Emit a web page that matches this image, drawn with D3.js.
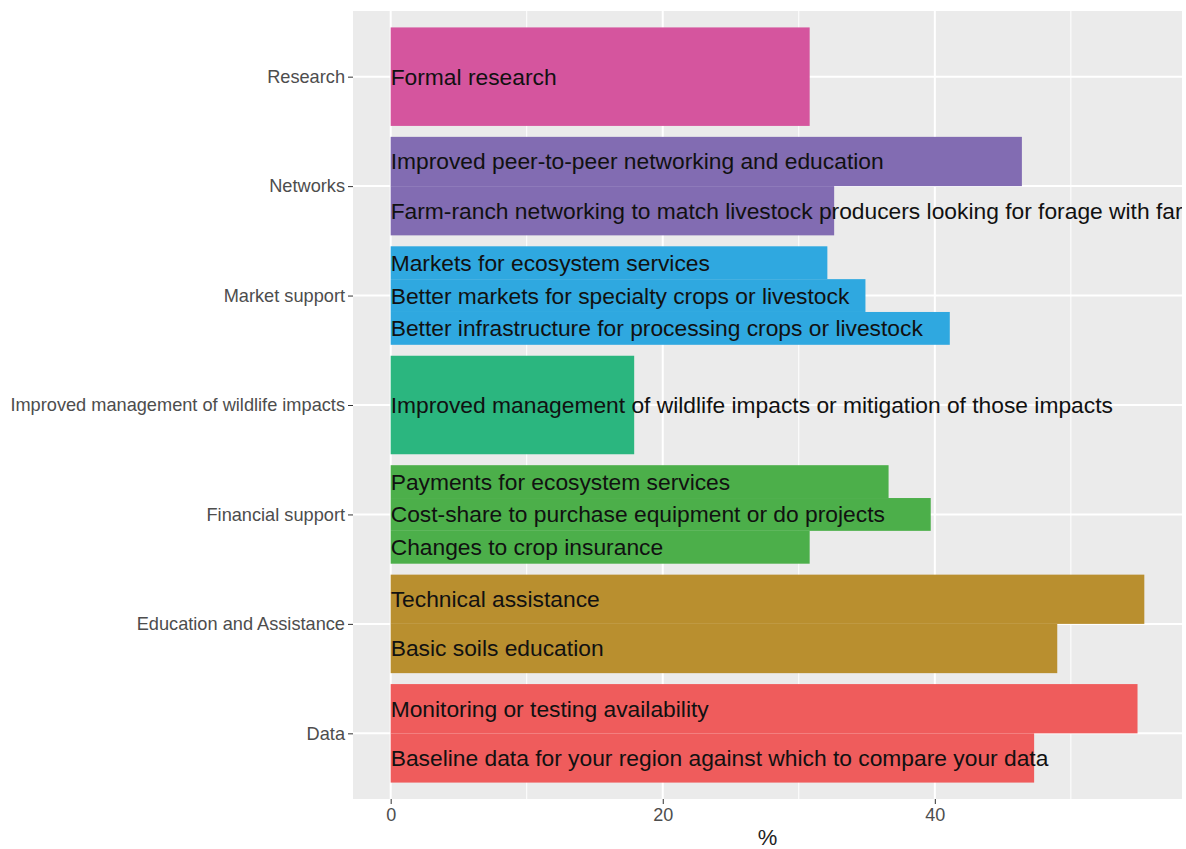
<!DOCTYPE html>
<html>
<head>
<meta charset="utf-8">
<script src="https://cdn.jsdelivr.net/npm/d3@7"></script>
<style>
  body { margin: 0; background: #fff; }
  svg { display: block; font-family: "Liberation Sans", Arial, sans-serif; }
</style>
</head>
<body>
<script>
const WIDTH = 1186;
const HEIGHT = 849;
const PANEL = {left: 353, right: 1182, top: 11, bottom: 799};

// categories from top to bottom
var categories = ['Research', 'Networks', 'Market support', 'Improved management of wildlife impacts',
    'Financial support', 'Education and Assistance', 'Data'];
var categoryColors = ['#d5559e', '#826cb2', '#2fa8e0', '#2bb67f', '#4caf4a', '#b98f2f', '#ef5c5c'];

// answers, listed top to bottom inside each category
var answerGroups = ['Research', 'Networks', 'Networks', 'Market support', 'Market support', 'Market support',
    'Improved management of wildlife impacts', 'Financial support', 'Financial support', 'Financial support',
    'Education and Assistance', 'Education and Assistance', 'Data', 'Data'];
var answerLabels = ['Formal research',
    'Improved peer-to-peer networking and education',
    'Farm-ranch networking to match livestock producers looking for forage with farmers',
    'Markets for ecosystem services',
    'Better markets for specialty crops or livestock',
    'Better infrastructure for processing crops or livestock',
    'Improved management of wildlife impacts or mitigation of those impacts',
    'Payments for ecosystem services',
    'Cost-share to purchase equipment or do projects',
    'Changes to crop insurance',
    'Technical assistance',
    'Basic soils education',
    'Monitoring or testing availability',
    'Baseline data for your region against which to compare your data'];
var answerValues = [30.8, 46.4, 32.6, 32.1, 34.9, 41.1, 17.9, 36.6, 39.7, 30.8, 55.4, 49.0, 54.9, 47.3];
var xTicks = [0, 20, 40];
var xMinor = [10, 30, 50];

var rows = answerLabels.map(function (label, i) {
    return {label: label, group: answerGroups[i], value: answerValues[i]};
});
categories.forEach(function (c) {
    var members = rows.filter(function (r) { return r.group === c; });
    members.forEach(function (r, j) { r.slot = j; r.count = members.length; });
});

var svg = d3.select('body').append('svg')
    .attr('width', WIDTH)
    .attr('height', HEIGHT);

var maxVal = d3.max(answerValues);
var xScale = d3.scaleLinear()
    .domain([-0.05 * maxVal, maxVal * 1.05])
    .range([PANEL.left, PANEL.right]);
var yScale = d3.scalePoint()
    .domain(categories)
    .range([PANEL.top, PANEL.bottom])
    .padding(0.6);
var colorScale = d3.scaleOrdinal().domain(categories).range(categoryColors);
var band = yScale.step() * 0.9;

svg.append('defs').append('clipPath').attr('id', 'panel-clip')
    .append('rect')
    .attr('x', PANEL.left).attr('y', PANEL.top)
    .attr('width', PANEL.right - PANEL.left).attr('height', PANEL.bottom - PANEL.top);

// panel background and grid
svg.append('rect')
    .attr('x', PANEL.left).attr('y', PANEL.top)
    .attr('width', PANEL.right - PANEL.left).attr('height', PANEL.bottom - PANEL.top)
    .attr('fill', '#ebebeb');

svg.append('g').selectAll('line').data(xMinor).enter().append('line')
    .attr('x1', function (d) { return xScale(d); }).attr('x2', function (d) { return xScale(d); })
    .attr('y1', PANEL.top).attr('y2', PANEL.bottom)
    .attr('stroke', '#fff').attr('stroke-width', 1);
svg.append('g').selectAll('line').data(xTicks).enter().append('line')
    .attr('x1', function (d) { return xScale(d); }).attr('x2', function (d) { return xScale(d); })
    .attr('y1', PANEL.top).attr('y2', PANEL.bottom)
    .attr('stroke', '#fff').attr('stroke-width', 2);
svg.append('g').selectAll('line').data(categories).enter().append('line')
    .attr('x1', PANEL.left).attr('x2', PANEL.right)
    .attr('y1', function (d) { return yScale(d); }).attr('y2', function (d) { return yScale(d); })
    .attr('stroke', '#fff').attr('stroke-width', 2);

// bars and their labels are clipped to the panel, as ggplot does
var plot = svg.append('g').attr('clip-path', 'url(#panel-clip)');

function barTop(d) {
    return yScale(d.group) - band / 2 + d.slot * band / d.count;
}

plot.selectAll('rect.bar').data(rows).enter().append('rect')
    .classed('bar', true)
    .attr('x', xScale(0))
    .attr('y', barTop)
    .attr('width', function (d) { return xScale(d.value) - xScale(0); })
    .attr('height', function (d) { return band / d.count; })
    .attr('fill', function (d) { return colorScale(d.group); });

plot.selectAll('text.lab').data(rows).enter().append('text')
    .classed('lab', true)
    .attr('x', xScale(0))
    .attr('y', function (d) { return barTop(d) + band / d.count / 2; })
    .attr('dy', '0.35em')
    .attr('font-size', 22.8)
    .attr('fill', '#111')
    .text(function (d) { return d.label; });

// y axis
var yAxis = d3.axisLeft(yScale).tickSize(5).tickPadding(3);
var yg = svg.append('g').attr('transform', 'translate(' + PANEL.left + ',0)').call(yAxis);
yg.select('.domain').remove();
yg.selectAll('line').attr('stroke', '#333');
yg.selectAll('text').attr('font-size', 18.2).attr('fill', '#4d4d4d')
    .attr('font-family', '"Liberation Sans", Arial, sans-serif');

// x axis
var xAxis = d3.axisBottom(xScale).tickValues(xTicks).tickSize(5).tickPadding(4);
var xg = svg.append('g').attr('transform', 'translate(0,' + PANEL.bottom + ')').call(xAxis);
xg.select('.domain').remove();
xg.selectAll('line').attr('stroke', '#333');
xg.selectAll('text').attr('font-size', 18).attr('fill', '#4d4d4d')
    .attr('font-family', '"Liberation Sans", Arial, sans-serif');

svg.append('text')
    .attr('x', (PANEL.left + PANEL.right) / 2)
    .attr('y', 845)
    .attr('text-anchor', 'middle')
    .attr('font-size', 22)
    .attr('fill', '#222')
    .text('%');
</script>
</body>
</html>
